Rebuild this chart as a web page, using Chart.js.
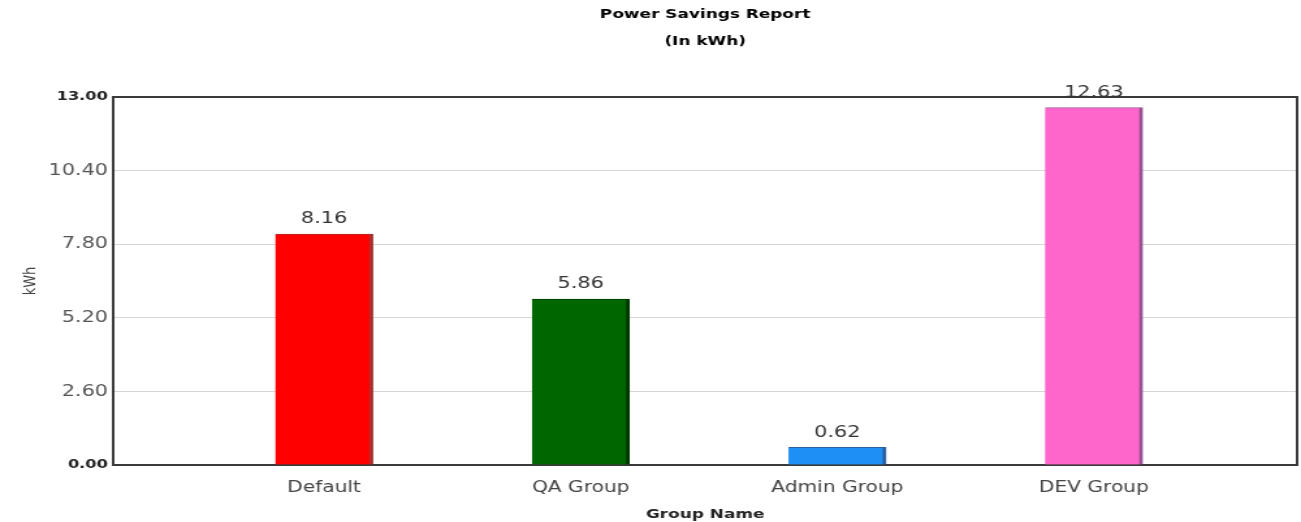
<!DOCTYPE html>
<html>
<head>
<meta charset="utf-8">
<title>Power Savings Report</title>
<script src="https://cdn.jsdelivr.net/npm/chart.js@4/dist/chart.umd.min.js"></script>
<style>
  html, body { margin: 0; padding: 0; background: #fff; overflow: hidden; }
  #chart { display: block; }
</style>
</head>
<body>
<!-- drawn on a 1000px-wide surface and stretched to the window width -->
<canvas id="chart" width="1000" height="522" style="width:1301px;height:522px;"></canvas>
<script>
// Groups and their power savings (kWh)
const categories = ['Default', 'QA Group', 'Admin Group', 'DEV Group'];
const savings = [8.16, 5.86, 0.62, 12.63];
const barColors = ['#ff0000', '#006600', '#1e8ff5', '#ff66cc'];
const barEdges = ['#a83030', '#003800', '#2a5f9c', '#9a5290'];
const yTicks = [0, 2.6, 5.2, 7.8, 10.4, 13];

const FONT = '"DejaVu Sans", Verdana, sans-serif';
const isEnd = v => v === 0 || v === 13;

// Dark frame round the plotting area
const framePlugin = {
  id: 'frame',
  beforeDatasetsDraw(chart) {
    const { ctx, chartArea: a } = chart;
    ctx.save();
    ctx.strokeStyle = '#3a3a3a';
    ctx.lineWidth = 2;
    ctx.strokeRect(a.left, a.top, a.right - a.left, a.bottom - a.top);
    ctx.restore();
  }
};

// Y tick labels, right edge 4px left of the plot frame;
// the two end values in bold, the others regular
const yLabels = {
  id: 'yLabels',
  afterDraw(chart) {
    const { ctx, chartArea: a } = chart;
    const y = chart.scales.y;
    ctx.save();
    ctx.textAlign = 'right';
    ctx.textBaseline = 'middle';
    yTicks.forEach(v => {
      const end = isEnd(v);
      ctx.font = end ? 'bold 12.5px ' + FONT : '16px ' + FONT;
      ctx.fillStyle = end ? '#222' : '#555';
      ctx.fillText(v.toFixed(2), a.left - 4, y.getPixelForValue(v));
    });
    ctx.restore();
  }
};

// Value printed above each bar
const valueLabels = {
  id: 'valueLabels',
  afterDatasetsDraw(chart) {
    const { ctx } = chart;
    const meta = chart.getDatasetMeta(0);
    ctx.save();
    ctx.font = '16px ' + FONT;
    ctx.fillStyle = '#333';
    ctx.textAlign = 'center';
    ctx.textBaseline = 'middle';
    meta.data.forEach((bar, i) => {
      ctx.fillText(savings[i].toFixed(2), bar.x, bar.y - 15);
    });
    ctx.restore();
  }
};

new Chart(document.getElementById('chart'), {
  type: 'bar',
  data: {
    datasets: [{
      data: savings.map((v, i) => ({ x: i, y: v })),
      backgroundColor: barColors,
      borderColor: barEdges,
      borderWidth: { left: 0, top: 1, right: 3, bottom: 0 },
      borderSkipped: false,
      barThickness: 75
    }]
  },
  options: {
    responsive: false,
    devicePixelRatio: 1,
    animation: false,
    layout: { padding: { left: 0, right: 3, top: 0, bottom: 0 } },
    plugins: {
      legend: { display: false },
      tooltip: { enabled: false },
      title: {
        display: true,
        fullSize: false,
        text: ['Power Savings Report', '(In kWh)'],
        color: '#000',
        font: { family: FONT, size: 13, weight: 'bold', lineHeight: '27px' },
        padding: { top: 1.5, bottom: 41.5 }
      }
    },
    scales: {
      x: {
        type: 'linear',
        offset: false,
        min: -0.822,
        max: 3.792,
        afterBuildTicks: s => { s.ticks = categories.map((_, i) => ({ value: i })); },
        afterFit: s => { s.height = 57; },
        grid: { display: false, drawTicks: false, offset: false },
        border: { display: false },
        ticks: {
          autoSkip: false,
          maxRotation: 0,
          padding: 14,
          color: '#444',
          font: { family: FONT, size: 15.5 },
          callback: v => categories[v]
        },
        title: {
          display: true,
          text: 'Group Name',
          color: '#222',
          font: { family: FONT, size: 13, weight: 'bold' },
          padding: { top: 0, bottom: 0 }
        }
      },
      y: {
        min: 0,
        max: 13,
        afterBuildTicks: s => { s.ticks = yTicks.map(v => ({ value: v })); },
        afterFit: s => { s.width = 87; },
        grid: { color: '#d6d6d6', lineWidth: 1, drawTicks: false },
        border: { display: false },
        ticks: { display: false },
        title: {
          display: true,
          text: 'kWh',
          color: '#444',
          font: { family: FONT, size: 13 },
          padding: { top: 16, bottom: 0 }
        }
      }
    }
  },
  plugins: [framePlugin, valueLabels, yLabels]
});
</script>
</body>
</html>
